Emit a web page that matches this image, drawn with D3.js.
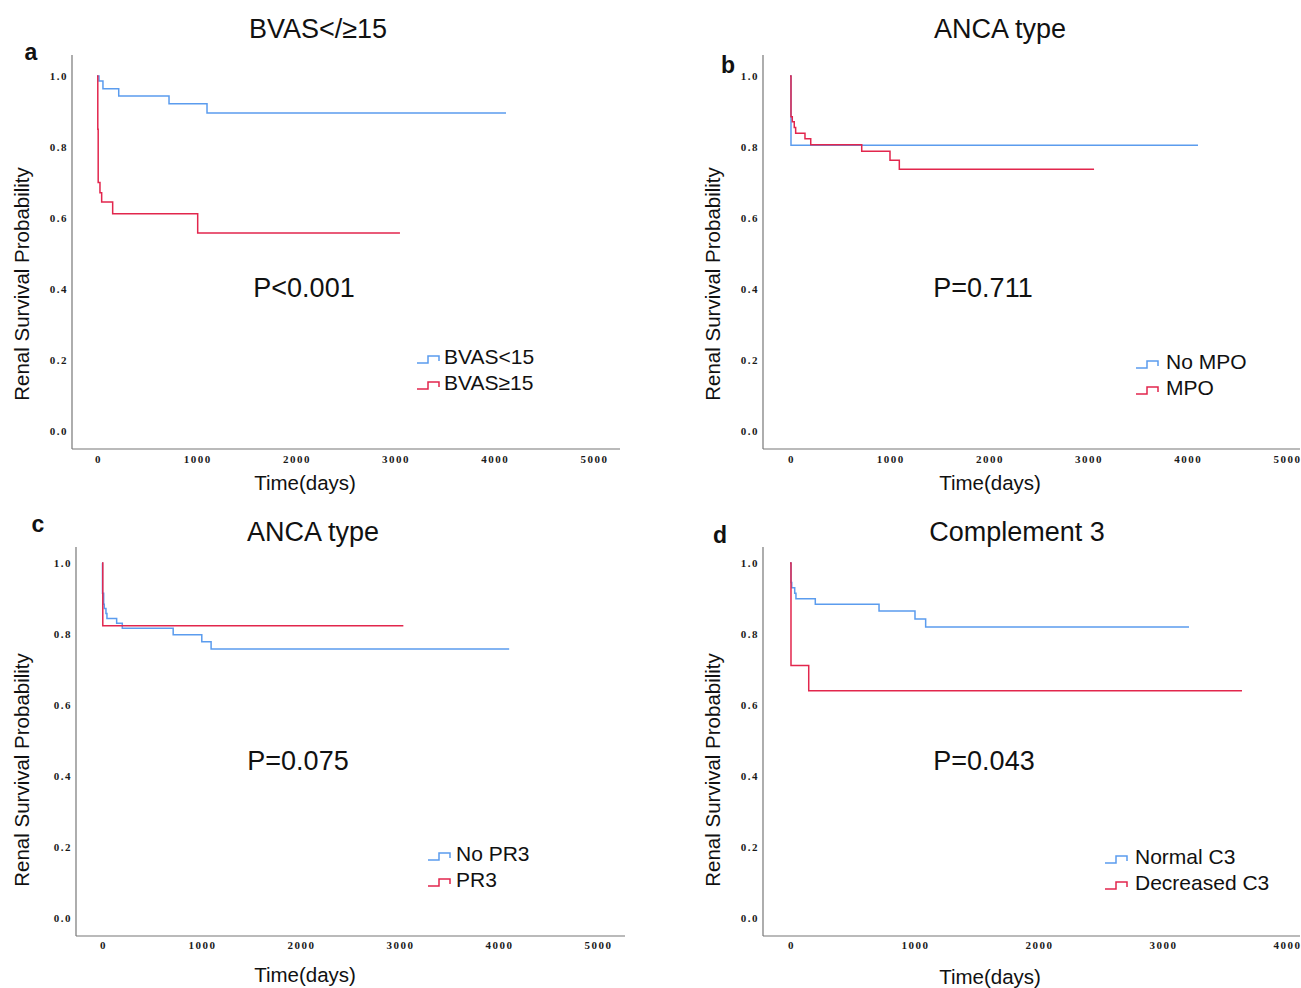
<!DOCTYPE html>
<html>
<head>
<meta charset="utf-8">
<script src="https://cdn.jsdelivr.net/npm/d3@7"></script>
<style>
  body { margin: 0; background: #fff; }
  svg { display: block; font-family: "Liberation Sans", Arial, sans-serif; }
  .tick text { font-family: "Liberation Serif", "DejaVu Serif", serif; font-weight: bold; font-size: 11px; letter-spacing: 1.5px; fill: #1a1a1a; }
</style>
</head>
<body>
<svg id="chart" width="1301" height="988"></svg>
<script>
// survival steps: [days, probability]
const bvasLow = [[0, 1], [20, 0.986], [60, 0.964], [219, 0.944], [726, 0.922], [1109, 0.896]];
const bvasHigh = [[0, 1], [8, 0.85], [12, 0.70], [30, 0.671], [47, 0.645], [158, 0.612], [1015, 0.558]];
const noMpo = [[0, 1], [10, 0.805]];
const mpo = [[0, 1], [10, 0.885], [23, 0.871], [43, 0.855], [57, 0.839], [151, 0.823], [209, 0.806], [723, 0.788], [1008, 0.763], [1102, 0.737]];
const noPr3 = [[0, 1], [5, 0.915], [17, 0.884], [23, 0.872], [40, 0.858], [50, 0.844], [148, 0.83], [205, 0.816], [719, 0.798], [1008, 0.778], [1102, 0.758]];
const pr3 = [[0, 1], [8, 0.823]];
const normalC3 = [[0, 1], [8, 0.945], [14, 0.930], [38, 0.915], [48, 0.899], [204, 0.884], [718, 0.865], [1008, 0.842], [1094, 0.820]];
const decreasedC3 = [[0, 1], [8, 0.711], [151, 0.640]];

// last follow-up time of each curve
const endTimes = { bvasLow: 4123, bvasHigh: 3054, noMpo: 4113, mpo: 3065, noPr3: 4113, pr3: 3044, normalC3: 3218, decreasedC3: 3645 };

const yTicks = [0, 0.2, 0.4, 0.6, 0.8, 1.0];
const xTicks5000 = [0, 1000, 2000, 3000, 4000, 5000];
const xTicks4000 = [0, 1000, 2000, 3000, 4000];

const titles = ["BVAS</\u226515", "ANCA type", "ANCA type", "Complement 3"];
const letters = ["a", "b", "c", "d"];
const pValues = ["P<0.001", "P=0.711", "P=0.075", "P=0.043"];
const legendLabels = [["BVAS<15", "BVAS\u226515"], ["No MPO", "MPO"], ["No PR3", "PR3"], ["Normal C3", "Decreased C3"]];

const blue = "#5b9cee", red = "#e2264d";

// layout of each panel (pixels)
const panels = [
  { data: [bvasLow, bvasHigh], ends: [endTimes.bvasLow, endTimes.bvasHigh], xMax: 5000, ticks: xTicks5000,
    xr: [97, 593], yr: [431, 76], axL: 72, axR: 620, axT: 55, axB: 449, tickY: 465, tickR: 67,
    title: [318, 38], letter: [31, 60], p: [304, 297], leg: [417, 444, 363], ylab: [22, 284], xlab: [305, 490] },
  { data: [noMpo, mpo], ends: [endTimes.noMpo, endTimes.mpo], xMax: 5000, ticks: xTicks5000,
    xr: [790, 1286], yr: [431, 76], axL: 763, axR: 1300, axT: 55, axB: 449, tickY: 465, tickR: 758,
    title: [1000, 38], letter: [728, 73], p: [983, 297], leg: [1136, 1166, 368], ylab: [713, 284], xlab: [990, 490] },
  { data: [noPr3, pr3], ends: [endTimes.noPr3, endTimes.pr3], xMax: 5000, ticks: xTicks5000,
    xr: [102, 597], yr: [918, 563], axL: 76, axR: 625, axT: 547, axB: 936, tickY: 951, tickR: 71,
    title: [313, 541], letter: [38, 532], p: [298, 770], leg: [428, 456, 860], ylab: [22, 770], xlab: [305, 982] },
  { data: [normalC3, decreasedC3], ends: [endTimes.normalC3, endTimes.decreasedC3], xMax: 4000, ticks: xTicks4000,
    xr: [790, 1286], yr: [918, 563], axL: 763, axR: 1300, axT: 547, axB: 936, tickY: 951, tickR: 758,
    title: [1017, 541], letter: [720, 543], p: [984, 770], leg: [1105, 1135, 863], ylab: [713, 770], xlab: [990, 984] }
];

const svg = d3.select("#chart");

panels.forEach((p, i) => {
  const x = d3.scaleLinear().domain([0, p.xMax]).range(p.xr);
  const y = d3.scaleLinear().domain([0, 1]).range(p.yr);
  const g = svg.append("g");

  // axis lines
  g.append("line").attr("x1", p.axL).attr("x2", p.axL).attr("y1", p.axT).attr("y2", p.axB)
    .attr("stroke", "#777").attr("stroke-width", 1.2);
  g.append("line").attr("x1", p.axL).attr("x2", p.axR).attr("y1", p.axB).attr("y2", p.axB)
    .attr("stroke", "#777").attr("stroke-width", 1.2);

  // y ticks
  const ya = g.append("g").attr("transform", `translate(${p.tickR + 1},0)`)
    .call(d3.axisLeft(y).tickValues(yTicks).tickFormat(d3.format(".1f")).tickSize(0).tickPadding(0));
  ya.select(".domain").remove();
  ya.selectAll("text").attr("dy", "0.35em");

  // x ticks
  const xa = g.append("g").attr("transform", `translate(1,${p.tickY - 10})`)
    .call(d3.axisBottom(x).tickValues(p.ticks).tickFormat(d3.format("d")).tickSize(0).tickPadding(0));
  xa.select(".domain").remove();

  // curves
  const line = d3.line().x(d => x(d[0])).y(d => y(d[1])).curve(d3.curveStepAfter);
  [blue, red].forEach((col, k) => {
    const pts = p.data[k].concat([[p.ends[k], p.data[k][p.data[k].length - 1][1]]]);
    g.append("path").attr("d", line(pts)).attr("fill", "none")
      .attr("stroke", col).attr("stroke-width", 1.5);
  });

  // texts
  g.append("text").attr("x", p.title[0]).attr("y", p.title[1]).attr("text-anchor", "middle")
    .attr("font-size", 27).attr("fill", "#111").text(titles[i]);
  g.append("text").attr("x", p.letter[0]).attr("y", p.letter[1]).attr("text-anchor", "middle")
    .attr("font-size", 23).attr("font-weight", "bold").attr("fill", "#111").text(letters[i]);
  g.append("text").attr("x", p.p[0]).attr("y", p.p[1]).attr("text-anchor", "middle")
    .attr("font-size", 27).attr("fill", "#111").text(pValues[i]);
  g.append("text").attr("transform", `translate(${p.ylab[0] + 7},${p.ylab[1]}) rotate(-90)`)
    .attr("text-anchor", "middle").attr("font-size", 20.5).attr("fill", "#111").text("Renal Survival Probability");
  g.append("text").attr("x", p.xlab[0]).attr("y", p.xlab[1]).attr("text-anchor", "middle")
    .attr("font-size", 20.5).attr("fill", "#111").text("Time(days)");

  // legend
  [blue, red].forEach((col, k) => {
    const by = p.leg[2] + k * 26;
    const sx = p.leg[0];
    g.append("path")
      .attr("d", `M${sx},${by} H${sx + 11} V${by - 7} H${sx + 22} V${by - 2}`)
      .attr("fill", "none").attr("stroke", col).attr("stroke-width", 1.5);
    g.append("text").attr("x", p.leg[1]).attr("y", by + 1).attr("font-size", 21)
      .attr("fill", "#111").text(legendLabels[i][k]);
  });
});
</script>
</body>
</html>
